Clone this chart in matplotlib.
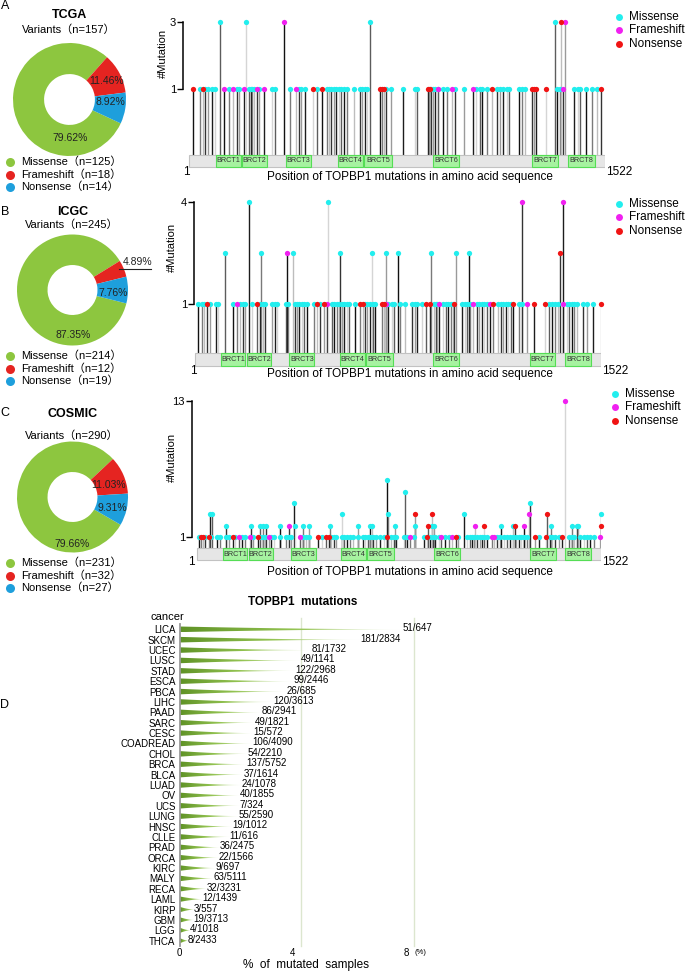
import numpy as np
import matplotlib
matplotlib.use('Agg')
import matplotlib.pyplot as plt
from matplotlib.patches import Rectangle, Polygon
from matplotlib.colors import LinearSegmentedColormap
from matplotlib.transforms import ScaledTranslation

FONT = ['Liberation Sans', 'Noto Sans CJK SC', 'DejaVu Sans']
plt.rcParams['font.family'] = FONT

W, H = 685, 973

# ---------------- data ----------------
PROTEIN_LEN = 1522
DOMAINS = [('BRCT1', 100, 190), ('BRCT2', 195, 287), ('BRCT3', 355, 448),
           ('BRCT4', 545, 637), ('BRCT5', 640, 744), ('BRCT6', 894, 990),
           ('BRCT7', 1256, 1351), ('BRCT8', 1387, 1486)]
MUT_TYPES = ['Missense', 'Frameshift', 'Nonsense']

# donut counts (Missense, Frameshift, Nonsense)
TCGA_COUNTS = [125, 18, 14]
ICGC_COUNTS = [214, 12, 19]
COSMIC_COUNTS = [231, 32, 27]
TCGA_PCT = ['79.62%', '11.46%', '8.92%']
ICGC_PCT = ['87.35%', '4.89%', '7.76%']
COSMIC_PCT = ['79.66%', '11.03%', '9.31%']

# lollipops: {mutation count: [amino acid positions]}
TCGA_MISSENSE = {
    1: [41, 59, 72, 84, 96, 148, 175, 185, 220, 226, 232, 238, 258, 306, 315, 370,
        403, 412, 425, 470, 504, 513, 522, 530, 540, 550, 558, 567, 577, 604, 626,
        635, 644, 652, 723, 741, 784, 826, 835, 880, 887, 894, 900, 912, 931, 943,
        973, 1006, 1052, 1064, 1074, 1091, 1126, 1138, 1150, 1162, 1172, 1209, 1217,
        1230, 1348, 1358, 1408, 1423, 1430, 1454, 1476, 1491],
    3: [114, 208, 662, 1341],
}
TCGA_FRAMESHIFT = {1: [130, 162, 202, 248, 275, 392, 913, 961, 1040, 1370],
                   3: [350, 1376]}
TCGA_NONSENSE = {1: [17, 51, 455, 486, 699, 705, 713, 875, 882, 1110, 1254, 1262,
                     1270, 1306, 1507],
                 3: [1361]}

ICGC_MISSENSE = {
    1: [14, 26, 35, 57, 80, 88, 142, 170, 180, 188, 213, 245, 255, 263, 288, 301,
        309, 342, 351, 376, 384, 392, 401, 409, 422, 447, 469, 513, 522, 532, 542,
        550, 559, 569, 579, 600, 638, 647, 657, 667, 675, 725, 738, 747, 769, 788,
        813, 825, 834, 850, 896, 904, 909, 931, 941, 950, 959, 969, 1000, 1012, 1021,
        1031, 1056, 1066, 1075, 1084, 1094, 1137, 1146, 1156, 1166, 1175, 1184, 1216,
        1225, 1328, 1337, 1350, 1362, 1393, 1403, 1412, 1421, 1431, 1453, 1468, 1491],
    2: [113, 248, 367, 544, 663, 717, 763, 884, 977, 1027],
    4: [203, 500],
}
ICGC_FRAMESHIFT = {1: [160, 494, 717, 916, 1044, 1106, 1246, 1378],
                   2: [344],
                   4: [1226, 1381]}
ICGC_NONSENSE = {1: [45, 232, 457, 486, 619, 629, 700, 709, 866, 881, 972, 1119,
                     1193, 1272, 1312, 1521],
                 2: [1368]}

COSMIC_MISSENSE = {
    1: [7, 32, 53, 76, 86, 111, 120, 145, 170, 183, 212, 239, 249, 258, 280, 290,
        312, 337, 346, 355, 400, 412, 421, 472, 505, 515, 525, 547, 556, 566, 576,
        588, 606, 626, 635, 643, 654, 664, 676, 689, 704, 731, 741, 751, 782, 792,
        817, 854, 877, 889, 898, 911, 936, 948, 982, 1017, 1028, 1036, 1045, 1055,
        1065, 1074, 1083, 1093, 1130, 1143, 1155, 1168, 1178, 1191, 1203, 1212, 1221,
        1231, 1243, 1287, 1329, 1337, 1350, 1363, 1400, 1413, 1422, 1442, 1457, 1469,
        1482, 1494],
    2: [111, 204, 239, 249, 262, 312, 371, 400, 421, 503, 607, 651, 660, 748, 823,
        886, 892, 1145, 1191, 1334, 1413, 1432, 1435],
    3: [49, 57, 547, 719, 1005, 1521],
    4: [367, 1256],
    5: [785],
    6: [716],
}
COSMIC_FRAMESHIFT = {1: [158, 202, 271, 390, 802, 920, 961, 1112, 1120, 1520],
                     2: [346, 1049, 1231],
                     3: [1250],
                     13: [1388]}
COSMIC_NONSENSE = {1: [16, 23, 45, 136, 229, 456, 488, 497, 716, 867, 977, 1275,
                       1315, 1375],
                   2: [869, 1080, 1199, 1521],
                   3: [823, 886, 1319]}

# panel D
CANCERS = ['LICA', 'SKCM', 'UCEC', 'LUSC', 'STAD', 'ESCA', 'PBCA', 'LIHC', 'PAAD',
           'SARC', 'CESC', 'COADREAD', 'CHOL', 'BRCA', 'BLCA', 'LUAD', 'OV', 'UCS',
           'LUNG', 'HNSC', 'CLLE', 'PRAD', 'ORCA', 'KIRC', 'MALY', 'RECA', 'LAML',
           'KIRP', 'GBM', 'LGG', 'THCA']
MUTATED = [51, 181, 81, 49, 122, 99, 26, 120, 86, 49, 15, 106, 54, 137, 37, 24, 40,
           7, 55, 19, 11, 36, 22, 9, 63, 32, 12, 3, 19, 4, 8]
TOTAL = [647, 2834, 1732, 1141, 2968, 2446, 685, 3613, 2941, 1821, 572, 4090, 2210,
         5752, 1614, 1078, 1855, 324, 2590, 1012, 616, 2475, 1566, 697, 5111, 3231,
         1439, 557, 3713, 1018, 2433]

# ---------------- style ----------------
DONUT_COLORS = ['#8DC63F', '#E52421', '#1E9FDC']
DOT_COLORS = {'Missense': '#22EEEE', 'Frameshift': '#F020F0', 'Nonsense': '#F01414'}
STEM_GRAYS = ['#111111', '#7a7a7a', '#bdbdbd', '#333333', '#9a9a9a', '#1c1c1c',
              '#d5d5d5', '#5c5c5c']

fig = plt.figure(figsize=(W / 100, H / 100), dpi=100)


def px_axes(x0, y0, x1, y1):
    return fig.add_axes([x0 / W, 1 - y1 / H, (x1 - x0) / W, (y1 - y0) / H])


# overlay in pixel coordinates for free text and legends
ov = fig.add_axes([0, 0, 1, 1], zorder=10)
ov.set_xlim(0, W)
ov.set_ylim(H, 0)
ov.axis('off')


def draw_donut(cx, cy, r, counts, start, pct, pct_pos, title, legend_y):
    ax = px_axes(cx - 1.2 * r, cy - 1.25 * r, cx + 1.6 * r, cy + 1.25 * r)
    ax.pie(counts, colors=DONUT_COLORS, startangle=start, counterclock=False,
           radius=1, wedgeprops=dict(width=0.55, edgecolor='none'))
    ax.set_xlim(-1.2, 1.6)
    ax.set_ylim(-1.25, 1.25)
    for lab, (x, y) in zip(pct, pct_pos):
        ax.text(x, y, lab, fontsize=7.5, ha='center', va='center', color='#222222')
    n = sum(counts)
    ov.text(cx, title[1], title[0], fontsize=9, fontweight='bold', ha='center',
            va='center')
    ov.text(cx - 1, title[2], 'Variants（n=%d）' % n, fontsize=8, ha='center',
            va='center')
    for k, name in enumerate(MUT_TYPES):
        y = legend_y + k * 12.5
        ov.plot(10, y, 'o', ms=6.5, color=DONUT_COLORS[k], mec='none')
        ov.text(21.5, y, '%s（n=%d）' % (name, counts[k]), fontsize=8, va='center')
    return ax


def draw_lollipop(box, xlo, ylim, bar, logy, yticks, data, xlab_y, ends_y, leg):
    ax = px_axes(*box)
    ax.set_facecolor('none')
    if logy:
        ax.set_yscale('log', base=2)
    b0, b1 = bar
    entries = []
    for mtype in MUT_TYPES:
        for cnt, plist in data[mtype].items():
            for p in plist:
                entries.append((p, cnt, mtype))
    entries.sort()
    for k, (p, cnt, mtype) in enumerate(entries):
        ax.vlines(p, b1, cnt, colors=STEM_GRAYS[k % len(STEM_GRAYS)], lw=1.0,
                  zorder=1)
    ax.add_patch(Rectangle((1, b0), PROTEIN_LEN - 1, b1 - b0, fc='#E6E6E6',
                           ec='#C2C2C2', lw=0.8, zorder=2))
    for name, s, e in DOMAINS:
        ax.add_patch(Rectangle((s, b0), e - s, b1 - b0, fc='#A6F2A0', ec='#55DD55',
                               lw=0.8, zorder=3))
        ym = np.sqrt(b0 * b1) if logy else (b0 + b1) / 2
        ax.text((s + e) / 2, ym, name, fontsize=5.2, ha='center', va='center',
                color='#333333', zorder=4)
    for mtype in MUT_TYPES:
        for cnt, plist in sorted(data[mtype].items()):
            ax.plot(plist, [cnt] * len(plist), 'o', ms=3.8, color=DOT_COLORS[mtype],
                    mec='none', zorder=5, clip_on=False)
    ax.set_xlim(xlo, PROTEIN_LEN)
    ax.set_ylim(*ylim)
    for s in ['top', 'right', 'bottom']:
        ax.spines[s].set_visible(False)
    ax.spines['left'].set_bounds(yticks[0], yticks[-1])
    ax.spines['left'].set_linewidth(1.1)
    ax.set_xticks([])
    ax.set_yticks(yticks)
    ax.set_yticklabels([str(t) for t in yticks])
    ax.yaxis.set_minor_locator(plt.NullLocator())
    ax.tick_params(axis='y', length=4, width=1, labelsize=8, pad=1)
    ov.text(box[0] + (3 if box[0] < 190 else -1), ends_y, '1', fontsize=8.5,
            ha='center', va='center')
    ov.text(box[2] + 14, ends_y, str(PROTEIN_LEN), fontsize=8.5, ha='center',
            va='center')
    ov.text(410, xlab_y, 'Position of TOPBP1 mutations in amino acid sequence',
            fontsize=8.5, ha='center', va='center')
    lx, ly = leg
    for k, mtype in enumerate(MUT_TYPES):
        ov.plot(lx, ly + k * 13.3, 'o', ms=5, color=DOT_COLORS[mtype], mec='none')
        ov.text(lx + 10, ly + k * 13.3, mtype, fontsize=8.5, va='center')
    return ax


# ---------------- panels A-C ----------------
draw_donut(69.5, 99.5, 56.5, TCGA_COUNTS, -25, TCGA_PCT,
           [(0.01, -0.68), (0.66, 0.33), (0.72, -0.04)], ('TCGA', 15, 30), 162)
axb = draw_donut(72.5, 290, 55.5, ICGC_COUNTS, -14, ICGC_PCT,
                 [(0.01, -0.81), (1.18, 0.50), (0.73, -0.05)], ('ICGC', 212, 225), 356)
axb.plot([0.84, 1.41], [0.38, 0.38], color='#222222', lw=0.8)
draw_donut(72.5, 497, 55.5, COSMIC_COUNTS, -30, COSMIC_PCT,
           [(0.0, -0.85), (0.65, 0.22), (0.71, -0.2)], ('COSMIC', 414, 436), 563)

draw_lollipop((183, 12, 605, 170), -20.9, (0.265, 3.53), (0.279, 0.339), True, [1, 3],
              {'Missense': TCGA_MISSENSE, 'Frameshift': TCGA_FRAMESHIFT,
               'Nonsense': TCGA_NONSENSE}, 177, 172, (619, 17))
draw_lollipop((194, 195, 601, 370), -2.75, (0.408, 4.40), (0.431, 0.514), True, [1, 4],
              {'Missense': ICGC_MISSENSE, 'Frameshift': ICGC_FRAMESHIFT,
               'Nonsense': ICGC_NONSENSE}, 374, 371, (619, 204))
draw_lollipop((192, 385, 601, 563), -17.8, (-1.29, 14.42), (-1.03, 0.03), False, [1, 13],
              {'Missense': COSMIC_MISSENSE, 'Frameshift': COSMIC_FRAMESHIFT,
               'Nonsense': COSMIC_NONSENSE}, 572, 562, (615, 394))

for x, y in [(163, 53), (172, 247), (172, 457)]:
    ov.text(x, y, '#Mutation', fontsize=8, rotation=90, ha='center', va='center')

for lab, y in [('A', 6), ('B', 212), ('C', 413), ('D', 705)]:
    ov.text(5, y, lab, fontsize=9, ha='center', va='center')

# ---------------- panel D ----------------
axd = px_axes(179.5, 618, 406.5, 946)
cmap = LinearSegmentedColormap.from_list('spike', ['#5F9226', '#93C351', '#E4F1CF'])
grad = np.linspace(0, 1, 256).reshape(1, -1)
for i, (m, t) in enumerate(zip(MUTATED, TOTAL)):
    pct = 100.0 * m / t
    tt = np.linspace(0, 1, 60)
    xs = pct * tt
    half = 0.27 * (1 - tt) ** 1.7
    verts = np.r_[np.c_[xs, i - half], np.c_[xs[::-1], i + half[::-1]]]
    poly = Polygon(verts, closed=True, fc='none', ec='none')
    axd.add_patch(poly)
    im = axd.imshow(grad, cmap=cmap, extent=[0, pct, i - 0.3, i + 0.3],
                    aspect='auto', zorder=2)
    im.set_clip_path(poly)
    axd.text(pct - 0.03, i - 0.1, '%d/%d' % (m, t), fontsize=7, ha='left',
             va='center', zorder=4, clip_on=False)
shift = axd.get_xaxis_transform() + ScaledTranslation(7.5 / 100, 0, fig.dpi_scale_trans)
for v in [4, 8]:
    axd.plot([v, v], [0, 1], transform=shift, color='#DCE6CF', lw=1, zorder=1,
             clip_on=False)
axd.set_xlim(0, 8)
axd.set_ylim(30.51, -1.09)
axd.set_yticks(range(len(CANCERS)))
axd.set_yticklabels(CANCERS)
axd.set_xticks([0, 4, 8])
axd.set_xticklabels(['0', '4', '8'])
axd.tick_params(axis='y', length=0, pad=3, labelsize=7)
axd.tick_params(axis='x', length=0, pad=1.5, labelsize=7)
for s in ['top', 'right', 'bottom']:
    axd.spines[s].set_visible(False)
axd.spines['left'].set_color('#9A9A9A')
axd.spines['left'].set_linewidth(1.3)
axd.spines['left'].set_bounds(-0.5, 30.5)

ov.text(303, 602, 'TOPBP1  mutations', fontsize=8.5, fontweight='bold',
        ha='center', va='center')
ov.text(167, 617, 'cancer', fontsize=8, ha='center', va='center')
ov.text(420, 952, '(%)', fontsize=5.5, ha='center', va='center')
ov.text(306, 965, '%  of  mutated  samples', fontsize=8.5, ha='center', va='center')

fig.savefig('out.png', dpi=100)
